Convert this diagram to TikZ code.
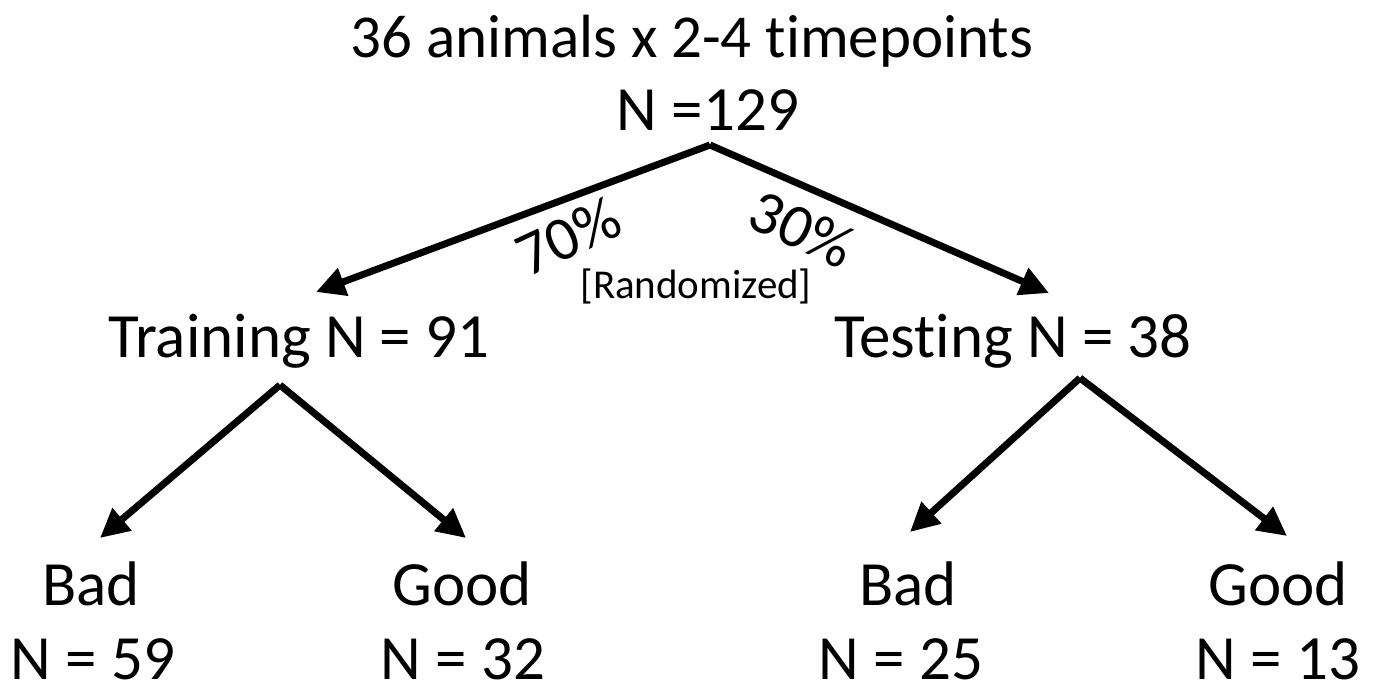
\documentclass[tikz,border=0pt]{standalone}
\usepackage{fontspec}
\setmainfont{Carlito}[Ligatures=NoCommon]
\usetikzlibrary{arrows.meta, positioning}

\begin{document}
\begin{tikzpicture}[x=1pt, y=-1pt, >={Triangle[length=29pt, width=28pt]},
		lbl/.style={anchor=base, inner sep=0pt, font=\fontsize{63}{63}\selectfont},
		pct/.style={inner sep=0pt, font=\fontsize{62}{62}\selectfont},
		arr/.style={->, line width=7pt}]
	\useasboundingbox (0,0) rectangle (1375,685);
	% Top of the tree
	\node[lbl, font=\fontsize{61}{61}\selectfont] (animals) at (692,58) {36 animals x 2-4 timepoints};
	\node[lbl] (total) at (708,130) {N =129};
	
	% Split into training and testing
	\node[lbl] (train) at (299,357) {Training N = 91};
	\node[lbl] (test) at (1013,357) {Testing N = 38};
	
	% Leaves
	\node[lbl] (trbad) at (91,605) {Bad};
	\node[lbl] (trbadn) at (93,679) {N = 59};
	\node[lbl] (trgood) at (462,605) {Good};
	\node[lbl] (trgoodn) at (463,679) {N = 32};
	\node[lbl] (tebad) at (908,605) {Bad};
	\node[lbl] (tebadn) at (901,679) {N = 25};
	\node[lbl] (tegood) at (1278,605) {Good};
	\node[lbl] (tegoodn) at (1278,679) {N = 13};
	
	% Points where the arrows start and end
	\coordinate (split) at (710,145);
	\coordinate (totrain) at (316,292);
	\coordinate (totest) at (1049,293);
	\coordinate (trsplit) at (280,385);
	\coordinate (totrbad) at (100,538);
	\coordinate (totrgood) at (466,538);
	\coordinate (tesplit) at (1080,378);
	\coordinate (totebad) at (910,532);
	\coordinate (totegood) at (1287,536);
	
	\draw[arr] (split) -- (totrain);
	\draw[arr] (split) -- (totest);
	\draw[arr] (trsplit) -- (totrbad);
	\draw[arr] (trsplit) -- (totrgood);
	\draw[arr] (tesplit) -- (totebad);
	\draw[arr] (tesplit) -- (totegood);
	
	% Split labels
	\node[pct, rotate=25] (seventy) at (568,236) {70\%};
	\node[pct, rotate=-25] (thirty) at (802,229) {30\%};
	\node[inner sep=0pt, anchor=base, font=\fontsize{41}{41}\selectfont] (random) at (696,298) {[Randomized]};
\end{tikzpicture}
\end{document}
